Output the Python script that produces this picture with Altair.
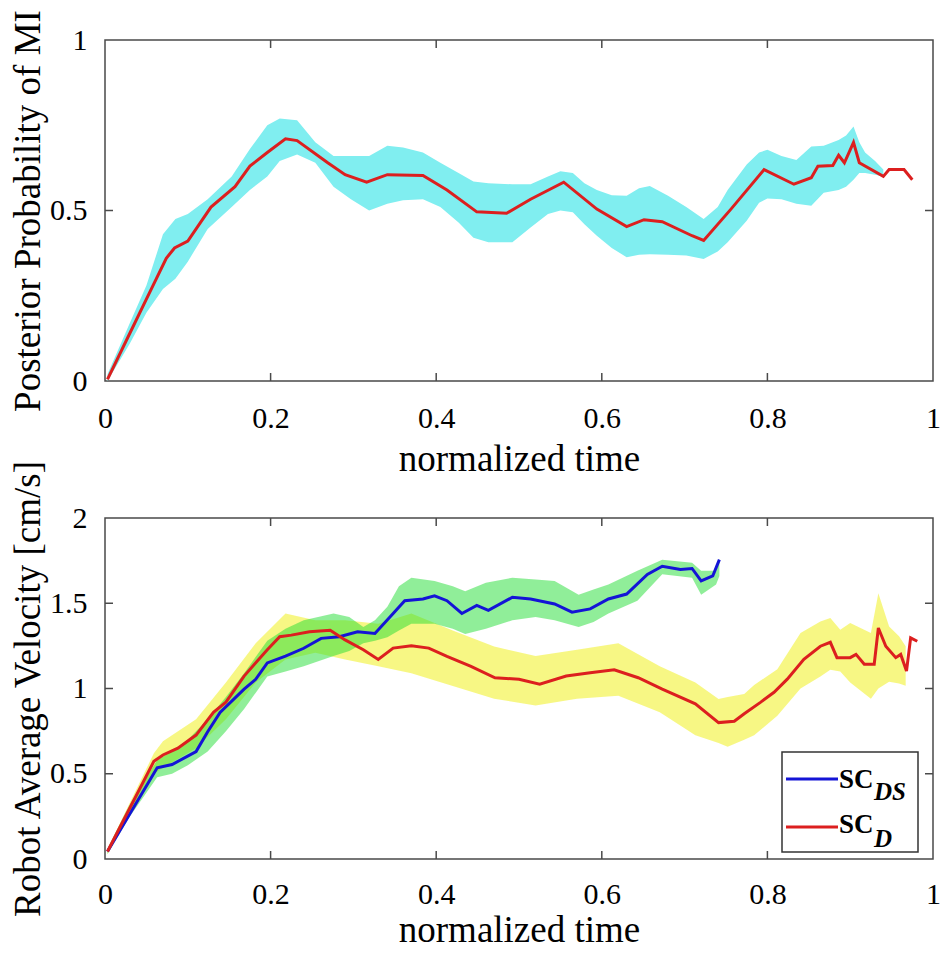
import altair as alt
import pandas as pd

# ---------------- data ----------------
x_ticks = [0, 0.2, 0.4, 0.6, 0.8, 1]
top_y_ticks = [0, 0.5, 1]
bot_y_ticks = [0, 0.5, 1, 1.5, 2]

# Top panel: posterior probability of MI (mean line)
top_mean_x = [0.003, 0.03, 0.05, 0.074, 0.084, 0.10, 0.128, 0.157, 0.175, 0.196, 0.218, 0.232,
              0.269, 0.29, 0.316, 0.341, 0.384, 0.413, 0.449, 0.485, 0.514, 0.554, 0.594, 0.63,
              0.651, 0.673, 0.709, 0.723, 0.756, 0.796, 0.832, 0.853, 0.861, 0.879, 0.886, 0.893,
              0.904, 0.911, 0.94, 0.947, 0.965, 0.975]
top_mean_y = [0.005, 0.14, 0.24, 0.36, 0.39, 0.41, 0.51, 0.57, 0.63, 0.67, 0.71, 0.705,
              0.64, 0.605, 0.583, 0.605, 0.603, 0.56, 0.496, 0.492, 0.533, 0.583, 0.504, 0.453,
              0.473, 0.467, 0.426, 0.412, 0.504, 0.62, 0.577, 0.596, 0.63, 0.632, 0.662, 0.64,
              0.70, 0.64, 0.60, 0.62, 0.62, 0.59]

# Top panel: band
top_band_x = [0.003, 0.03, 0.05, 0.07, 0.085, 0.10, 0.124, 0.153, 0.175, 0.196, 0.211, 0.232,
              0.254, 0.276, 0.297, 0.319, 0.341, 0.36, 0.384, 0.405, 0.427, 0.445, 0.463, 0.492,
              0.514, 0.535, 0.55, 0.565, 0.579, 0.594, 0.612, 0.63, 0.645, 0.658, 0.68, 0.702,
              0.723, 0.74, 0.752, 0.775, 0.79, 0.80, 0.817, 0.835, 0.853, 0.868, 0.886, 0.895,
              0.904, 0.911, 0.918, 0.93, 0.94]
top_band_lo = [0.0, 0.11, 0.20, 0.27, 0.30, 0.35, 0.446, 0.51, 0.56, 0.60, 0.645, 0.664,
               0.64, 0.57, 0.533, 0.50, 0.52, 0.53, 0.533, 0.51, 0.465, 0.42, 0.407, 0.407,
               0.45, 0.49, 0.50, 0.495, 0.46, 0.426, 0.39, 0.363, 0.37, 0.372, 0.37, 0.368,
               0.358, 0.38, 0.407, 0.47, 0.523, 0.535, 0.533, 0.52, 0.514, 0.552, 0.56, 0.57,
               0.59, 0.61, 0.61, 0.605, 0.60]
top_band_hi = [0.02, 0.17, 0.28, 0.43, 0.475, 0.49, 0.533, 0.60, 0.68, 0.75, 0.77, 0.765,
               0.70, 0.66, 0.66, 0.66, 0.69, 0.685, 0.67, 0.64, 0.61, 0.585, 0.58, 0.577,
               0.577, 0.60, 0.615, 0.61, 0.58, 0.56, 0.545, 0.543, 0.565, 0.572, 0.543, 0.51,
               0.475, 0.51, 0.56, 0.635, 0.67, 0.678, 0.66, 0.648, 0.688, 0.69, 0.707, 0.72,
               0.746, 0.70, 0.67, 0.645, 0.62]

# Bottom panel: SC_DS (blue)
ds_x = [0.003, 0.063, 0.081, 0.11, 0.124, 0.139, 0.168, 0.182, 0.196, 0.218, 0.24, 0.261,
        0.283, 0.305, 0.326, 0.348, 0.362, 0.384, 0.398, 0.413, 0.431, 0.449, 0.463, 0.492,
        0.514, 0.543, 0.564, 0.586, 0.608, 0.63, 0.655, 0.673, 0.695, 0.709, 0.72, 0.734, 0.742]
ds_y = [0.044, 0.535, 0.554, 0.63, 0.746, 0.86, 0.996, 1.054, 1.15, 1.19, 1.236, 1.294,
        1.304, 1.333, 1.323, 1.44, 1.515, 1.525, 1.544, 1.515, 1.44, 1.487, 1.458, 1.535,
        1.525, 1.496, 1.448, 1.467, 1.525, 1.554, 1.669, 1.717, 1.698, 1.704, 1.631, 1.66, 1.756]
ds_band_x = [0.003, 0.03, 0.063, 0.081, 0.10, 0.124, 0.146, 0.168, 0.196, 0.218, 0.24, 0.276,
             0.295, 0.312, 0.326, 0.341, 0.355, 0.37, 0.398, 0.42, 0.435, 0.46, 0.492, 0.52,
             0.543, 0.572, 0.59, 0.608, 0.643, 0.673, 0.709, 0.72, 0.738, 0.742]
ds_band_lo = [0.03, 0.25, 0.48, 0.50, 0.55, 0.63, 0.75, 0.88, 1.07, 1.10, 1.13, 1.19,
              1.22, 1.265, 1.28, 1.30, 1.34, 1.38, 1.38, 1.35, 1.32, 1.35, 1.40, 1.42,
              1.40, 1.36, 1.39, 1.44, 1.515, 1.67, 1.65, 1.55, 1.61, 1.66]
ds_band_hi = [0.06, 0.32, 0.58, 0.63, 0.70, 0.82, 0.95, 1.09, 1.28, 1.35, 1.40, 1.44,
              1.42, 1.36, 1.40, 1.48, 1.60, 1.65, 1.63, 1.60, 1.57, 1.62, 1.65, 1.64,
              1.63, 1.55, 1.58, 1.61, 1.69, 1.755, 1.737, 1.69, 1.69, 1.76]

# Bottom panel: SC_D (red)
d_x = [0.003, 0.059, 0.07, 0.088, 0.11, 0.131, 0.146, 0.168, 0.196, 0.211, 0.225, 0.247,
       0.272, 0.29, 0.312, 0.33, 0.348, 0.37, 0.391, 0.413, 0.442, 0.471, 0.50, 0.525,
       0.557, 0.586, 0.615, 0.644, 0.673, 0.713, 0.741, 0.76, 0.772, 0.792, 0.808, 0.824,
       0.844, 0.864, 0.876, 0.884, 0.90, 0.907, 0.917, 0.929, 0.934, 0.943, 0.955, 0.961,
       0.968, 0.973, 0.981]
d_y = [0.044, 0.573, 0.61, 0.65, 0.727, 0.86, 0.92, 1.073, 1.227, 1.304, 1.313, 1.333,
       1.342, 1.285, 1.227, 1.17, 1.237, 1.25, 1.237, 1.188, 1.13, 1.063, 1.054, 1.025,
       1.073, 1.092, 1.11, 1.063, 0.996, 0.91, 0.80, 0.808, 0.852, 0.92, 0.978, 1.055,
       1.171, 1.248, 1.271, 1.181, 1.181, 1.20, 1.142, 1.142, 1.355, 1.248, 1.181, 1.20,
       1.103, 1.297, 1.277]
d_band_x = [0.003, 0.03, 0.059, 0.07, 0.11, 0.146, 0.182, 0.218, 0.254, 0.29, 0.33, 0.37,
            0.42, 0.47, 0.52, 0.57, 0.62, 0.67, 0.713, 0.741, 0.752, 0.772, 0.784, 0.812,
            0.84, 0.864, 0.876, 0.888, 0.90, 0.925, 0.934, 0.947, 0.959, 0.967]
d_band_lo = [0.03, 0.26, 0.50, 0.535, 0.65, 0.82, 1.035, 1.17, 1.21, 1.17, 1.13, 1.09,
             1.015, 0.94, 0.90, 0.94, 0.958, 0.86, 0.726, 0.68, 0.659, 0.70, 0.726, 0.84,
             1.0, 1.07, 1.11, 1.10, 1.035, 0.94, 1.0, 1.04, 1.03, 1.016]
d_band_hi = [0.06, 0.33, 0.62, 0.69, 0.82, 1.035, 1.265, 1.44, 1.40, 1.40, 1.38, 1.44,
             1.34, 1.246, 1.19, 1.227, 1.265, 1.13, 1.035, 0.939, 0.95, 0.968, 1.02, 1.113,
             1.326, 1.393, 1.413, 1.345, 1.384, 1.326, 1.558, 1.364, 1.306, 1.248]

legend_labels = ["SC", "SC"]
legend_subs = ["DS", "D"]

# ---------------- styling ----------------
FONT = "Liberation Serif"
W = 828
H1 = 341
H2 = 341
FRAME = "#4a4a4a"
RED = "#dc1f1f"
BLUE = "#1414d6"
TICK = 8

xs = alt.Scale(domain=[0, 1], nice=False, zero=False)


def x_axis(lp, tp):
    return alt.Axis(values=x_ticks, title="normalized time", ticks=False, domain=False,
                    grid=False, labelPadding=lp, titlePadding=tp, format="~g",
                    labelFlush=False, labelOverlap=False,
                    labelFont=FONT, labelFontSize=30, labelColor="black",
                    titleFont=FONT, titleFontSize=37, titleFontWeight=400,
                    titleColor="black")


def y_axis(vals, title):
    return alt.Axis(values=vals, title=title, ticks=False, domain=False, grid=False,
                    labelPadding=18, titlePadding=2, format="~g",
                    labelFlush=False, labelOverlap=False,
                    labelFont=FONT, labelFontSize=30, labelColor="black",
                    titleFont=FONT, titleFontSize=37, titleFontWeight=400,
                    titleColor="black")


def inner_ticks(yvals, ys, H):
    xv = pd.DataFrame({"x": x_ticks[1:-1]})
    yv = pd.DataFrame({"y": yvals[1:-1]})
    base_x = alt.Chart(xv).mark_rule(color=FRAME, strokeWidth=1.5)
    base_y = alt.Chart(yv).mark_rule(color=FRAME, strokeWidth=1.5)
    return [
        base_x.encode(x=alt.X("x:Q", scale=xs), y=alt.value(H), y2=alt.value(H - TICK)),
        base_x.encode(x=alt.X("x:Q", scale=xs), y=alt.value(0), y2=alt.value(TICK)),
        base_y.encode(y=alt.Y("y:Q", scale=ys), x=alt.value(0), x2=alt.value(TICK)),
        base_y.encode(y=alt.Y("y:Q", scale=ys), x=alt.value(W), x2=alt.value(W - TICK)),
    ]


# ---------------- top panel ----------------
ys1 = alt.Scale(domain=[0, 1], nice=False)
top_band = pd.DataFrame({"x": top_band_x, "lo": top_band_lo, "hi": top_band_hi})
top_line = pd.DataFrame({"x": top_mean_x, "y": top_mean_y})

t_band = alt.Chart(top_band).mark_area(color="#80eef0", opacity=1).encode(
    x=alt.X("x:Q", scale=xs, axis=x_axis(22, 8)),
    y=alt.Y("lo:Q", scale=ys1, axis=y_axis(top_y_ticks, "Posterior Probability of MI")),
    y2="hi:Q",
)
t_line = alt.Chart(top_line).mark_line(color=RED, strokeWidth=3).encode(
    x=alt.X("x:Q", scale=xs), y=alt.Y("y:Q", scale=ys1)
)
top = alt.layer(t_band, t_line, *inner_ticks(top_y_ticks, ys1, H1)).properties(width=W, height=H1)

# ---------------- bottom panel ----------------
ys2 = alt.Scale(domain=[0, 2], nice=False)
yb = pd.DataFrame({"x": d_band_x, "lo": d_band_lo, "hi": d_band_hi})
gb = pd.DataFrame({"x": ds_band_x, "lo": ds_band_lo, "hi": ds_band_hi})
bl = pd.DataFrame({"x": ds_x, "y": ds_y})
rl = pd.DataFrame({"x": d_x, "y": d_y})

b_yellow = alt.Chart(yb).mark_area(color="#f6f66e", opacity=0.85).encode(
    x=alt.X("x:Q", scale=xs, axis=x_axis(20, 3)),
    y=alt.Y("lo:Q", scale=ys2, axis=y_axis(bot_y_ticks, "Robot Average Velocity [cm/s]")),
    y2="hi:Q",
)
b_green = alt.Chart(gb).mark_area(color="#22dd33", opacity=0.5).encode(
    x=alt.X("x:Q", scale=xs), y=alt.Y("lo:Q", scale=ys2), y2="hi:Q"
)
b_blue = alt.Chart(bl).mark_line(color=BLUE, strokeWidth=3).encode(
    x=alt.X("x:Q", scale=xs), y=alt.Y("y:Q", scale=ys2)
)
b_red = alt.Chart(rl).mark_line(color=RED, strokeWidth=3).encode(
    x=alt.X("x:Q", scale=xs), y=alt.Y("y:Q", scale=ys2)
)

one = pd.DataFrame({"k": [0]})
BT = 234
leg_box = alt.Chart(one).mark_rect(fill="white", stroke="#333333", strokeWidth=1.5).encode(
    x=alt.value(677), x2=alt.value(813), y=alt.value(BT), y2=alt.value(BT + 100)
)
leg_l1 = alt.Chart(one).mark_rule(color=BLUE, strokeWidth=3).encode(
    x=alt.value(681), x2=alt.value(733), y=alt.value(BT + 27)
)
leg_l2 = alt.Chart(one).mark_rule(color=RED, strokeWidth=3).encode(
    x=alt.value(681), x2=alt.value(733), y=alt.value(BT + 75)
)


def leg_text(txt, x, y, size, bold_italic):
    if bold_italic:
        m = alt.Chart(one).mark_text(text=txt, font=FONT, fontSize=size, fontWeight="bold",
                                     fontStyle="italic", align="left", baseline="alphabetic",
                                     color="black")
    else:
        m = alt.Chart(one).mark_text(text=txt, font=FONT, fontSize=size, fontWeight="bold",
                                     align="left", baseline="alphabetic", color="black")
    return m.encode(x=alt.value(x), y=alt.value(y))


leg_texts = [
    leg_text(legend_labels[0], 734, BT + 36, 27, False),
    leg_text(legend_subs[0], 769, BT + 48, 25, True),
    leg_text(legend_labels[1], 734, BT + 81, 27, False),
    leg_text(legend_subs[1], 769, BT + 95, 25, True),
]

bottom = alt.layer(
    b_yellow, b_green, b_blue, b_red,
    *inner_ticks(bot_y_ticks, ys2, H2),
    leg_box, leg_l1, leg_l2, *leg_texts
).properties(width=W, height=H2)

chart = alt.vconcat(top, bottom, spacing=137, bounds="flush").properties(
    padding={"left": 0, "top": 0, "right": 0, "bottom": 0}
).configure(
    font=FONT
).configure_view(
    stroke=FRAME, strokeWidth=1.5
)

chart.save("out.html", embed_options={"renderer": "svg", "actions": False})
